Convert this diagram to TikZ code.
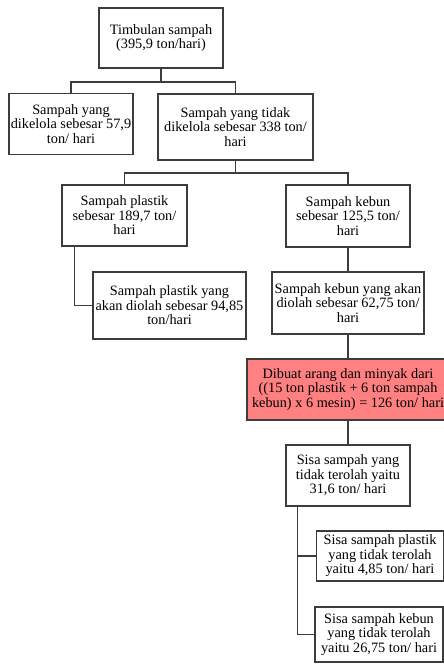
\documentclass[tikz,border=0pt]{standalone}
\usepackage{fontspec}
\setmainfont{Liberation Serif}
\usetikzlibrary{calc}
\definecolor{ln}{RGB}{60,60,60}
\definecolor{rd}{RGB}{255,128,128}

\begin{document}
\begin{tikzpicture}[
        x=1pt, y=-1pt,
        box/.style={shape=rectangle, draw=ln, line width=1.2pt, fill=white, text=black, align=center,
          inner sep=0pt, font=\fontsize{14.3}{14.5}\selectfont},
        hot/.style={box, fill=rd},
        link/.style={draw=ln, line width=1.2pt},
        ]
        \useasboundingbox (0,0) rectangle (444,664);
        \node(top)   [box, minimum width=124, minimum height=60] at (161,38)    {Timbulan sampah\\(395,9 ton/hari)};
        \node(dik)   [box, minimum width=124, minimum height=61] at (71,124)    {Sampah yang\\dikelola sebesar 57,9\\ton/ hari};
        \node(tdk)   [box, minimum width=155, minimum height=66] at (235.5,127) {Sampah yang tidak\\dikelola sebesar 338 ton/\\hari};
        \node(plas)  [box, minimum width=125, minimum height=61] at (124.5,215.5) {Sampah plastik\\sebesar 189,7 ton/\\hari};
        \node(kbn)   [box, minimum width=124, minimum height=62] at (348,216)   {Sampah kebun\\sebesar 125,5 ton/\\hari};
        \node(olahp) [box, minimum width=153, minimum height=67] at (169.5,305.5) {Sampah plastik yang\\akan diolah sebesar 94,85\\ton/hari};
        \node(olahk) [box, minimum width=152, minimum height=62] at (348,303)   {Sampah kebun yang akan\\diolah sebesar 62,75 ton/\\hari};
        \node(arang) [hot, minimum width=202, minimum height=61] at (348,389.5) {Dibuat arang dan minyak dari\\((15 ton plastik + 6 ton sampah\\kebun) x 6 mesin) = 126 ton/ hari};
        \node(sisa)  [box, minimum width=124, minimum height=61] at (348,475.5) {Sisa sampah yang\\tidak terolah yaitu\\31,6 ton/ hari};
        \node(sisap) [box, minimum width=127, minimum height=50] at (380,556)   {Sisa sampah plastik\\yang tidak terolah\\yaitu 4,85 ton/ hari};
        \node(sisak) [box, minimum width=128, minimum height=55] at (379,634.5) {Sisa sampah kebun\\yang tidak terolah\\yaitu 26,75 ton/ hari};

        \coordinate(j1) at (161,82);
        \coordinate(j2) at (235.5,173);
        \draw[link](top)--(j1);
        \draw[link](dik.north)|-(j1)-|(tdk.north);
        \draw[link](tdk)--(j2);
        \draw[link](plas.north)|-(j2)-|(kbn.north);
        \draw[link]([xshift=13pt]plas.south west)|-(olahp.west);
        \draw[link](kbn)--(olahk);
        \draw[link](olahk)--(arang);
        \draw[link](arang)--(sisa);
        \draw[link]([xshift=12pt]sisa.south west)|-(sisap.west);
        \draw[link]([xshift=12pt]sisa.south west)|-(sisak.west);
      \end{tikzpicture}
\end{document}
